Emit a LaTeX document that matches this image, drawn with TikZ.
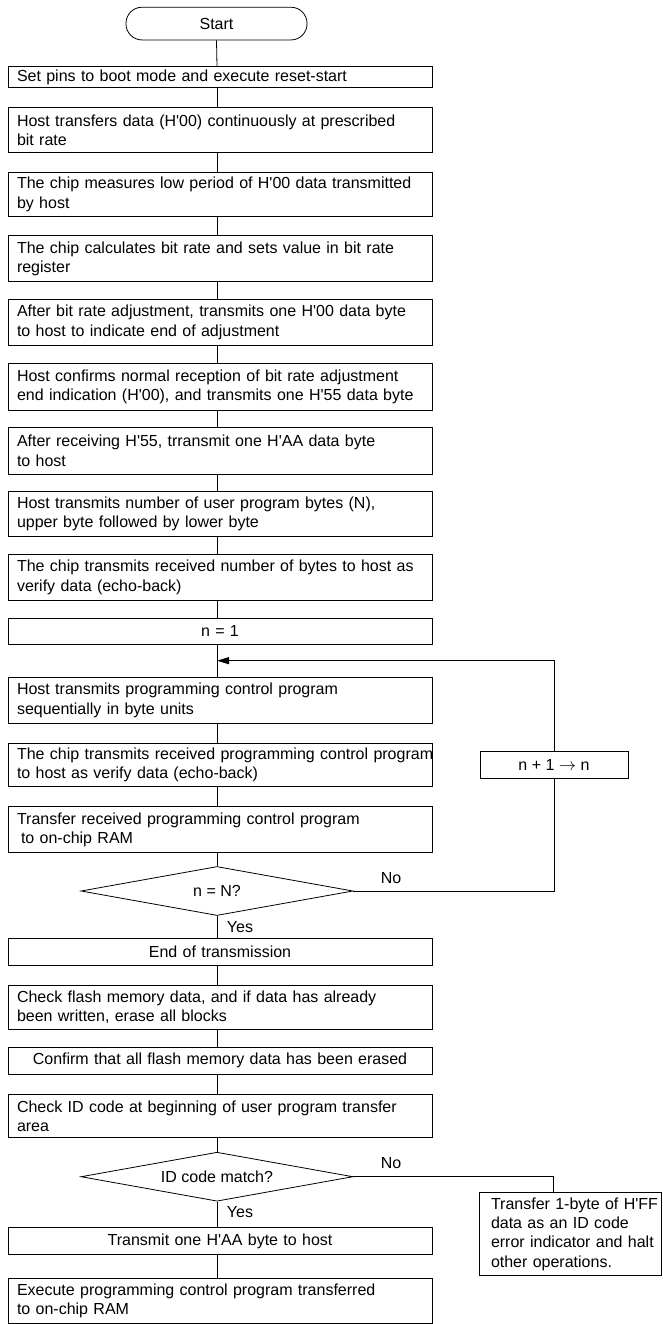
\documentclass[tikz,border=0pt]{standalone}
\usepackage{fontspec}
\setmainfont{Liberation Sans}
\usetikzlibrary{shapes.geometric,arrows.meta}
\newcommand{\hq}{\textquotesingle}
\begin{document}
\begin{tikzpicture}[x=1pt,y=-1pt,
  every node/.style={font=\fontsize{16}{19.3}\selectfont},
  box/.style={draw,line width=0.8pt,minimum width=424pt,text width=406pt,inner xsep=9pt,inner ysep=0pt,align=left},
  cbox/.style={box,align=center},
  dec/.style={draw,line width=0.8pt,diamond,aspect=5.55,inner sep=0pt,minimum width=272pt,minimum height=49pt},
  lbl/.style={anchor=west,inner sep=0pt},
  conn/.style={line width=0.8pt}]
\useasboundingbox (0,0) rectangle (662,1324);
\coordinate (col) at (217,0);
\node[draw,line width=0.8pt,rounded corners=16pt,minimum width=181pt,minimum height=32.7pt,inner sep=0pt] (start) at (216.5,23.6) {Start};
\node[box,minimum height=20.6pt] (b1) at (220,77) {\mbox{Set pins to boot mode and execute reset-start}};
\node[box,minimum height=45.4pt] (b2) at (220,130) {\mbox{Host transfers data (H\hq00) continuously at prescribed}\\\mbox{bit rate}};
\node[box,minimum height=44.4pt] (b3) at (220,194.5) {\mbox{The chip measures low period of H\hq00 data transmitted}\\\mbox{by host}};
\node[box,minimum height=46pt] (b4) at (220,258.7) {\mbox{The chip calculates bit rate and sets value in bit rate}\\\mbox{register}};
\node[box,minimum height=46.4pt] (b5) at (220,322.5) {\mbox{After bit rate adjustment, transmits one H\hq00 data byte}\\\mbox{to host to indicate end of adjustment}};
\node[box,minimum height=46.7pt] (b6) at (220,386.7) {\mbox{Host confirms normal reception of bit rate adjustment}\\\mbox{end indication (H\hq00), and transmits one H\hq55 data byte}};
\node[box,minimum height=47pt] (b7) at (220,450.8) {\mbox{After receiving H\hq55, trransmit one H\hq AA data byte}\\\mbox{to host}};
\node[box,minimum height=44.3pt] (b8) at (220,513.8) {\mbox{Host transmits number of user program bytes (N),}\\\mbox{upper byte followed by lower byte}};
\node[box,minimum height=46.7pt] (b9) at (220,577.3) {\mbox{The chip transmits received number of bytes to host as}\\\mbox{verify data (echo-back)}};
\node[cbox,minimum height=26pt] (b10) at (220,631.3) {n = 1};
\coordinate (join) at (217,660.7);
\node[box,minimum height=46pt] (b11) at (220,700.3) {\mbox{Host transmits programming control program}\\\mbox{sequentially in byte units}};
\node[box,minimum height=43.4pt] (b12) at (220,765) {\mbox{The chip transmits received programming control program}\\\mbox{to host as verify data (echo-back)}};
\node[box,minimum height=46pt] (b13) at (220,829.7) {\mbox{Transfer received programming control program}\\\mbox{\hspace*{4pt}to on-chip RAM}};
\node[dec] (d1) at (217,891) {n = N?};
\node[lbl] (no1) at (380.7,878) {No};
\node[lbl] (yes1) at (226.7,927.3) {Yes};
\node[draw,line width=0.8pt,minimum width=148pt,minimum height=27pt,inner sep=0pt] (inc) at (554,765.2) {n + 1 $\rightarrow$ n};
\node[cbox,minimum height=27.4pt] (b14) at (220,952) {End of transmission};
\node[box,minimum height=44.3pt] (b15) at (220,1007.2) {\mbox{Check flash memory data, and if data has already}\\\mbox{been written, erase all blocks}};
\node[cbox,minimum height=26.3pt] (b16) at (220,1060.8) {\mbox{Confirm that all flash memory data has been erased}};
\node[box,minimum height=43.4pt] (b17) at (220,1116) {\mbox{Check ID code at beginning of user program transfer}\\\mbox{area}};
\node[dec] (d2) at (217,1176.7) {ID code match?};
\node[lbl] (no2) at (380.7,1163.3) {No};
\node[lbl] (yes2) at (226.7,1212.3) {Yes};
\node[draw,line width=0.8pt,minimum width=182pt,minimum height=82.3pt,text width=158pt,inner xsep=12pt,inner ysep=0pt,align=left] (err) at (570,1233.9) {\mbox{Transfer 1-byte of H\hq FF}\\\mbox{data as an ID code}\\\mbox{error indicator and halt}\\\mbox{other operations.}};
\node[cbox,minimum height=26.6pt] (b18) at (220,1241) {\mbox{Transmit one H\hq AA byte to host}};
\node[box,minimum height=44.7pt] (b19) at (220,1300.7) {\mbox{Execute programming control program transferred}\\\mbox{to on-chip RAM}};
% connectors
\draw[conn] (start.south) -- (b1.north -| col);
\draw[conn] (b1.south -| col) -- (b2.north -| col);
\draw[conn] (b2.south -| col) -- (b3.north -| col);
\draw[conn] (b3.south -| col) -- (b4.north -| col);
\draw[conn] (b4.south -| col) -- (b5.north -| col);
\draw[conn] (b5.south -| col) -- (b6.north -| col);
\draw[conn] (b6.south -| col) -- (b7.north -| col);
\draw[conn] (b7.south -| col) -- (b8.north -| col);
\draw[conn] (b8.south -| col) -- (b9.north -| col);
\draw[conn] (b9.south -| col) -- (b10.north -| col);
\draw[conn] (b10.south -| col) -- (b11.north -| col);
\draw[conn] (b11.south -| col) -- (b12.north -| col);
\draw[conn] (b12.south -| col) -- (b13.north -| col);
\draw[conn] (b13.south -| col) -- (d1.north);
\draw[conn] (d1.south) -- (b14.north -| col);
\draw[conn] (b14.south -| col) -- (b15.north -| col);
\draw[conn] (b15.south -| col) -- (b16.north -| col);
\draw[conn] (b16.south -| col) -- (b17.north -| col);
\draw[conn] (b17.south -| col) -- (d2.north);
\draw[conn] (d2.south) -- (b18.north -| col);
\draw[conn] (b18.south -| col) -- (b19.north -| col);
\draw[conn] (d1.east) -| (inc.south);
\draw[conn,-{Triangle[length=12pt,width=7pt]}] (inc.north) |- (join);
\draw[conn] (d2.east) -| ([xshift=-17pt]err.north);
\end{tikzpicture}
\end{document}
